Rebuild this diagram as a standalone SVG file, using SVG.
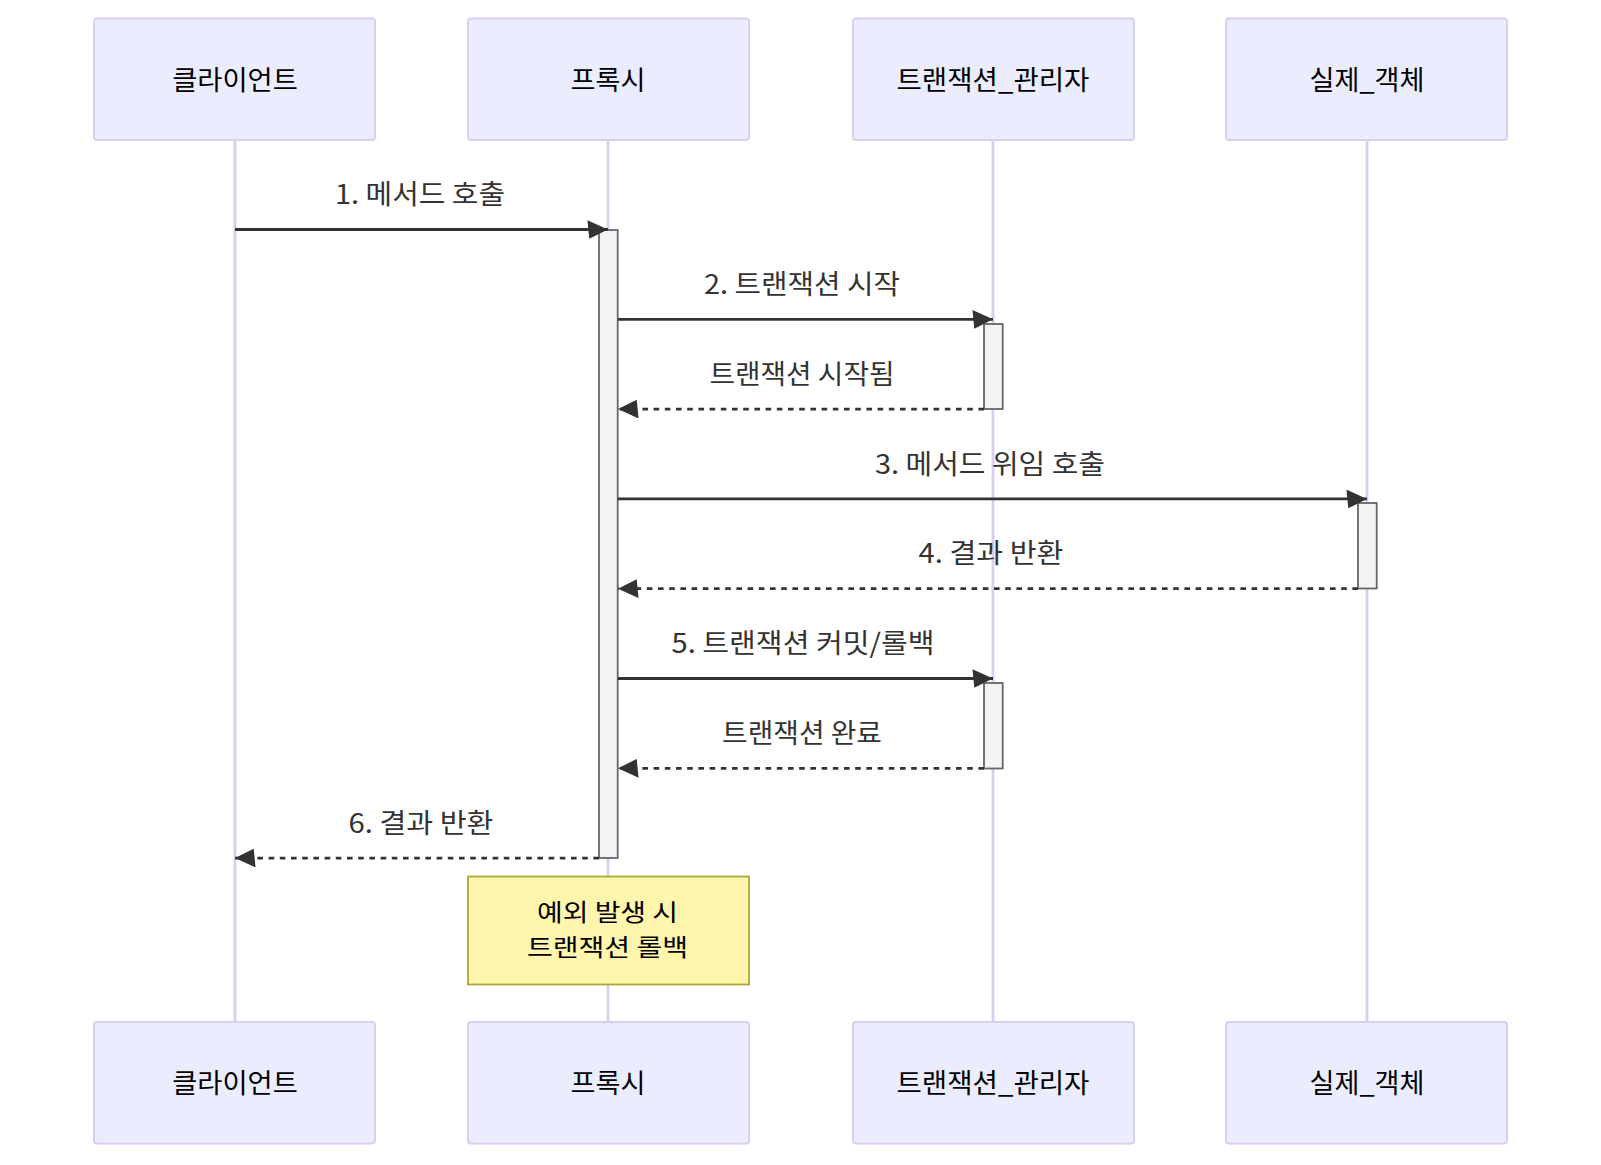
<svg xmlns="http://www.w3.org/2000/svg" width="1601" height="1165" viewBox="0 0 1601 1165">
<style>
.actor{fill:#ECECFF;stroke:#DACEF3;stroke-width:2}
.atext{font-family:"Noto Sans CJK KR","Noto Sans",sans-serif;font-size:27px;fill:#000;text-anchor:middle;dominant-baseline:central}
.life{stroke:#DACEF3;stroke-width:2.8}
.act{fill:#F4F4F4;stroke:#666;stroke-width:1.8}
.msg{stroke:#333;stroke-width:2.8;fill:none}
.dash{stroke-dasharray:5.6,5.6}
.mtext{font-family:"Noto Sans CJK KR","Noto Sans",sans-serif;font-size:27px;fill:#333;text-anchor:middle;dominant-baseline:central}
.note{fill:#FFF5AD;stroke:#AAAA33;stroke-width:1.8}
.ntext{font-family:"Noto Sans CJK KR","Noto Sans",sans-serif;font-size:24px;fill:#000;text-anchor:middle;dominant-baseline:central}
</style>
<defs>
<marker id="arrow" viewBox="-1 0 11 10" refX="10" refY="5" markerWidth="20.6" markerHeight="18.7" markerUnits="userSpaceOnUse" orient="auto">
<path d="M -1 0 L 10 5 L 0 10 z" fill="#333"/>
</marker>
</defs>
<rect width="1601" height="1165" fill="#fff"/>
<g id="lifelines">
<line class="life" x1="235" y1="140" x2="235" y2="1022"/>
<line class="life" x1="608" y1="140" x2="608" y2="1022"/>
<line class="life" x1="993" y1="140" x2="993" y2="1022"/>
<line class="life" x1="1367" y1="140" x2="1367" y2="1022"/>
</g>
<g id="actor-client-top"><rect class="actor" x="94" y="18.5" width="281" height="121.5" rx="3"/><text class="atext" x="235" y="78" textLength="125.6" lengthAdjust="spacingAndGlyphs">클라이언트</text></g>
<g id="actor-proxy-top"><rect class="actor" x="468" y="18.5" width="281" height="121.5" rx="3"/><text class="atext" x="608" y="78" textLength="75" lengthAdjust="spacingAndGlyphs">프록시</text></g>
<g id="actor-tm-top"><rect class="actor" x="853" y="18.5" width="281" height="121.5" rx="3"/><text class="atext" x="993" y="78" textLength="193" lengthAdjust="spacingAndGlyphs">트랜잭션_관리자</text></g>
<g id="actor-real-top"><rect class="actor" x="1226" y="18.5" width="281" height="121.5" rx="3"/><text class="atext" x="1367" y="78" textLength="115" lengthAdjust="spacingAndGlyphs">실제_객체</text></g>
<g id="actor-client-bottom"><rect class="actor" x="94" y="1022" width="281" height="121.5" rx="3"/><text class="atext" x="235" y="1081.5" textLength="125.6" lengthAdjust="spacingAndGlyphs">클라이언트</text></g>
<g id="actor-proxy-bottom"><rect class="actor" x="468" y="1022" width="281" height="121.5" rx="3"/><text class="atext" x="608" y="1081.5" textLength="75" lengthAdjust="spacingAndGlyphs">프록시</text></g>
<g id="actor-tm-bottom"><rect class="actor" x="853" y="1022" width="281" height="121.5" rx="3"/><text class="atext" x="993" y="1081.5" textLength="193" lengthAdjust="spacingAndGlyphs">트랜잭션_관리자</text></g>
<g id="actor-real-bottom"><rect class="actor" x="1226" y="1022" width="281" height="121.5" rx="3"/><text class="atext" x="1367" y="1081.5" textLength="115" lengthAdjust="spacingAndGlyphs">실제_객체</text></g>
<g id="activations">
<rect class="act" x="599" y="230" width="18.7" height="628"/>
<rect class="act" x="984" y="324" width="18.7" height="85"/>
<rect class="act" x="1358" y="503" width="18.7" height="85.5"/>
<rect class="act" x="984" y="683" width="18.7" height="85.5"/>
</g>
<g id="connectors">
<line class="msg" x1="235" y1="229.5" x2="608" y2="229.5" marker-end="url(#arrow)"/>
<text class="mtext" x="420" y="192" textLength="170" lengthAdjust="spacingAndGlyphs">1. 메서드 호출</text>
<line class="msg" x1="618" y1="319.3" x2="993" y2="319.3" marker-end="url(#arrow)"/>
<text class="mtext" x="802" y="282" textLength="196" lengthAdjust="spacingAndGlyphs">2. 트랜잭션 시작</text>
<line class="msg dash" x1="984" y1="409.1" x2="618" y2="409.1" marker-end="url(#arrow)"/>
<text class="mtext" x="802" y="372" textLength="185" lengthAdjust="spacingAndGlyphs">트랜잭션 시작됨</text>
<line class="msg" x1="618" y1="498.9" x2="1367" y2="498.9" marker-end="url(#arrow)"/>
<text class="mtext" x="990" y="462" textLength="230" lengthAdjust="spacingAndGlyphs">3. 메서드 위임 호출</text>
<line class="msg dash" x1="1358" y1="588.7" x2="618" y2="588.7" marker-end="url(#arrow)"/>
<text class="mtext" x="991" y="551.5" textLength="145" lengthAdjust="spacingAndGlyphs">4. 결과 반환</text>
<line class="msg" x1="618" y1="678.5" x2="993" y2="678.5" marker-end="url(#arrow)"/>
<text class="mtext" x="803" y="641.5" textLength="263" lengthAdjust="spacingAndGlyphs">5. 트랜잭션 커밋/롤백</text>
<line class="msg dash" x1="984" y1="768.3" x2="618" y2="768.3" marker-end="url(#arrow)"/>
<text class="mtext" x="802" y="731" textLength="160" lengthAdjust="spacingAndGlyphs">트랜잭션 완료</text>
<line class="msg dash" x1="599" y1="858.1" x2="235" y2="858.1" marker-end="url(#arrow)"/>
<text class="mtext" x="421" y="821" textLength="145" lengthAdjust="spacingAndGlyphs">6. 결과 반환</text>
</g>
<g id="note">
<rect class="note" x="468" y="876.5" width="281" height="108"/>
<text class="ntext" x="607.5" y="910.5" textLength="141" lengthAdjust="spacingAndGlyphs">예외 발생 시</text>
<text class="ntext" x="607.5" y="945.5" textLength="161" lengthAdjust="spacingAndGlyphs">트랜잭션 롤백</text>
</g>
</svg>
